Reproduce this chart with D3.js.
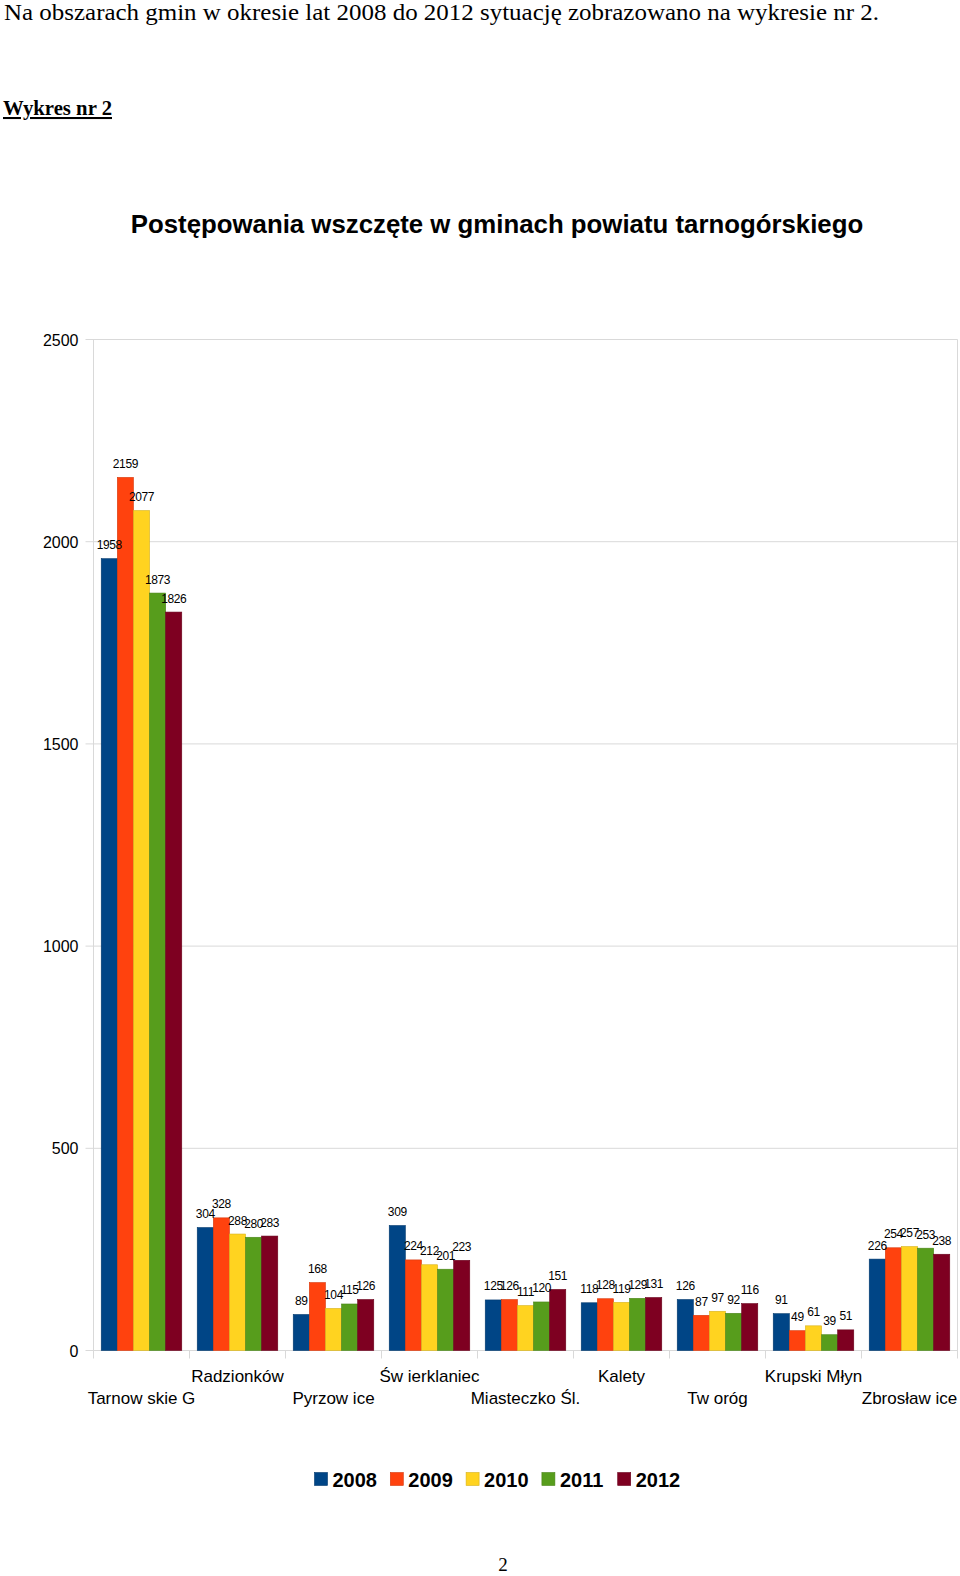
<!DOCTYPE html>
<html><head><meta charset="utf-8">
<script src="https://cdn.jsdelivr.net/npm/d3@7"></script>
<style>body{margin:0;background:#fff}svg{display:block}</style>
</head><body>
<script>
const categories = ["Tarnow skie G","Radzionków","Pyrzow ice","Św ierklaniec","Miasteczko Śl.","Kalety","Tw oróg","Krupski Młyn","Zbrosław ice"];
const seriesNames = ["2008","2009","2010","2011","2012"];
const values2008 = [1958,304,89,309,125,118,126,91,226];
const values2009 = [2159,328,168,224,126,128,87,49,254];
const values2010 = [2077,288,104,212,111,119,97,61,257];
const values2011 = [1873,280,115,201,120,129,92,39,253];
const values2012 = [1826,283,126,223,151,131,116,51,238];
const yTicks = [0,500,1000,1500,2000,2500];
const colors = ["#004586","#ff420e","#ffd320","#579d1c","#7e0021"];
const strokes = ["#00386c","#d6380b","#d6b11b","#4a8418","#6a001c"];
const series = [values2008,values2009,values2010,values2011,values2012];

const W=960,H=1576;
const svg=d3.select("body").append("svg").attr("width",W).attr("height",H);

svg.append("text").attr("x",4).attr("y",20).attr("font-family","Liberation Serif").attr("font-size",24)
  .attr("textLength",875).attr("lengthAdjust","spacingAndGlyphs")
  .text("Na obszarach gmin w okresie lat 2008 do 2012 sytuację zobrazowano na wykresie nr 2.");
svg.append("text").attr("x",3).attr("y",115).attr("font-family","Liberation Serif").attr("font-size",20.5).attr("font-weight","bold")
  .attr("textLength",109).attr("lengthAdjust","spacingAndGlyphs")
  .attr("text-decoration","underline").text("Wykres nr 2");

svg.append("text").attr("x",497).attr("y",233).attr("text-anchor","middle").attr("font-family","Liberation Sans").attr("font-size",25.8).attr("font-weight","bold")
  .text("Postępowania wszczęte w gminach powiatu tarnogórskiego");

const x0=93.5,x1=957.5,yTop=339.5,yBot=1350.5;
const x=d3.scaleBand().domain(categories).range([x0,x1]).padding(0);
const xs=d3.scaleBand().domain(seriesNames).range([0,x.bandwidth()]).paddingInner(0).paddingOuter(0.48);
const y=d3.scaleLinear().domain([0,2500]).range([yBot,yTop]);

const g=svg.append("g");
g.selectAll("line.grid").data(yTicks).join("line").attr("x1",x0-8).attr("x2",x1).attr("y1",d=>y(d)).attr("y2",d=>y(d))
  .attr("stroke","#d9d9d9").attr("stroke-width",1);
g.append("line").attr("x1",x0).attr("x2",x0).attr("y1",yTop).attr("y2",yBot).attr("stroke","#d9d9d9");
g.append("line").attr("x1",x1).attr("x2",x1).attr("y1",yTop).attr("y2",yBot+8).attr("stroke","#d9d9d9");
g.selectAll("line.ct").data(categories).join("line").attr("x1",d=>x(d)).attr("x2",d=>x(d)).attr("y1",yBot).attr("y2",yBot+8).attr("stroke","#d9d9d9");

g.selectAll("text.yt").data(yTicks).join("text").attr("x",78.5).attr("y",d=>y(d)+6).attr("text-anchor","end")
  .attr("font-family","Liberation Sans").attr("font-size",16).text(d=>d);

const barG=svg.append("g"), labG=svg.append("g");
series.forEach((vals,si)=>{
  barG.append("g").selectAll("rect").data(vals).join("rect")
    .attr("x",(d,i)=>x(categories[i])+xs(seriesNames[si]))
    .attr("width",xs.bandwidth())
    .attr("y",d=>y(d)).attr("height",d=>yBot-y(d))
    .attr("fill",colors[si]).attr("stroke",strokes[si]).attr("stroke-width",0.6);
  labG.append("g").selectAll("text").data(vals).join("text")
    .attr("x",(d,i)=>x(categories[i])+xs(seriesNames[si])+xs.bandwidth()/2)
    .attr("y",d=>y(d)-9.5).attr("text-anchor","middle")
    .attr("font-family","Liberation Sans").attr("font-size",12).attr("letter-spacing",-0.4).text(d=>d);
});

svg.selectAll("text.cat").data(categories).join("text")
  .attr("x",d=>x(d)+x.bandwidth()/2).attr("y",(d,i)=>i%2? 1382:1404).attr("text-anchor","middle")
  .attr("font-family","Liberation Sans").attr("font-size",17).text(d=>d);

const lg=svg.append("g");
seriesNames.forEach((s,i)=>{
  const lx=314.5+i*75.8;
  lg.append("rect").attr("x",lx).attr("y",1472.5).attr("width",13).attr("height",13).attr("fill",colors[i]).attr("stroke",strokes[i]).attr("stroke-width",0.6);
  lg.append("text").attr("x",lx+18).attr("y",1486.5).attr("font-family","Liberation Sans").attr("font-size",20).attr("font-weight","bold").text(s);
});

svg.append("text").attr("x",503).attr("y",1571).attr("text-anchor","middle").attr("font-family","Liberation Serif").attr("font-size",19).text("2");
</script>
</body></html>
